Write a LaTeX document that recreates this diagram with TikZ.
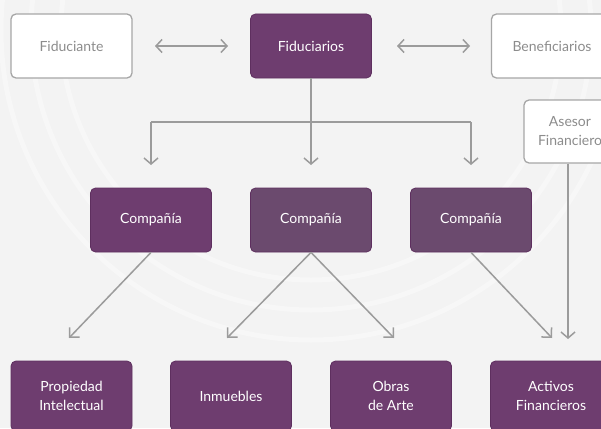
\documentclass[tikz,border=0pt]{standalone}
\usepackage{fontspec}
\setmainfont{Lato}
\usetikzlibrary{arrows.meta}
\definecolor{bg}{HTML}{F3F3F3}
\definecolor{arc}{HTML}{F7F7F7}
\definecolor{purp}{HTML}{6E3D6F}
\definecolor{purpb}{HTML}{6B4A6E}
\definecolor{purpd}{HTML}{5E2F5F}
\definecolor{lgray}{HTML}{A6A6A6}
\definecolor{tgray}{HTML}{8C8C8C}
\definecolor{lin}{HTML}{9B9B9B}
\tikzset{
  box/.style={rounded corners=5pt, minimum width=121pt, minimum height=64pt, align=center,
    font=\fontsize{14}{19}\selectfont, inner sep=0pt},
  pbox/.style={box, fill=purp, draw=purpd, line width=0.8pt, text=white},
  pboxb/.style={box, fill=purpb, draw=purpd, line width=0.8pt, text=white},
  lbox/.style={box, fill=white, draw=lgray, line width=1.3pt, text=tgray},
  conn/.style={draw=lin, line width=1.5pt},
  dbl/.style={conn, {Straight Barb[length=6pt,width=13pt]}-{Straight Barb[length=6pt,width=13pt]}},
  dn/.style={conn, -{_[length=2pt]Straight Barb[length=6pt,width=14pt]}},
  diag/.style={conn, -{_[length=4pt]Straight Barb[length=7pt,width=14pt]}},
}
\begin{document}
\begin{tikzpicture}[x=1pt,y=-1pt]
\clip (0,0) rectangle (601,428);
\fill[bg] (0,0) rectangle (601,428);
\foreach \r in {250,280,310} \draw[arc, line width=5pt] (311,30) circle (\r);
% top row
\node[lbox] (fiduciante) at (71.5,46) {Fiduciante};
\node[pbox] (fiduciarios) at (311,46) {Fiduciarios};
\node[lbox] (beneficiarios) at (552,46) {Beneficiarios};
\node[lbox, minimum width=92pt, minimum height=63pt] (asesor) at (570,131.5) {Asesor\\Financiero};
% companies
\node[pbox] (c1) at (151,220) {Compañía};
\node[pboxb] (c2) at (311,220) {Compañía};
\node[pboxb] (c3) at (471,220) {Compañía};
% bottom row
\node[pbox, minimum height=70pt] (propiedad) at (71.5,396) {};
\node[pbox, minimum height=70pt] (inmuebles) at (231,396) {};
\node[pbox, minimum height=70pt] (obras) at (391,396) {};
\node[pbox, minimum height=70pt] (activos) at (551,396) {};
\node[align=center, text=white, font=\fontsize{14}{19}\selectfont] at (71.5,396) {Propiedad\\Intelectual};
\node[align=center, text=white, font=\fontsize{14}{19}\selectfont] at (231,396) {Inmuebles};
\node[align=center, text=white, font=\fontsize{14}{19}\selectfont] at (391,396) {Obras\\de Arte};
\node[align=center, text=white, font=\fontsize{14}{19}\selectfont] at (551,396) {Activos\\Financieros};
% horizontal double arrows
\coordinate (h1a) at (155,46); \coordinate (h1b) at (228,46);
\coordinate (h2a) at (397,46); \coordinate (h2b) at (470,46);
\draw[dbl] (h1a) -- (h1b);
\draw[dbl] (h2a) -- (h2b);
% tree from fiduciarios
\coordinate (j) at (311,122);
\coordinate (jl) at (151,122);
\coordinate (jr) at (471,122);
\coordinate (d1) at (151,165);
\coordinate (d2) at (311,165);
\coordinate (d3) at (471,165);
\draw[conn] (fiduciarios.south) -- (j);
\draw[conn] (jl) -- (jr);
\draw[dn] (jl) -- (d1);
\draw[dn] (j) -- (d2);
\draw[dn] (jr) -- (d3);
% diagonals
\coordinate (e1) at (69,338);
\coordinate (e2) at (227,338);
\coordinate (e3) at (394,338);
\coordinate (e4) at (552,338);
\draw[diag] (c1.south) -- (e1);
\draw[diag] (c2.south) -- (e2);
\draw[diag] (c2.south) -- (e3);
\draw[diag] (c3.south) -- (e4);
% asesor
\coordinate (e5) at (568,339);
\draw[dn] (asesor.south -| e5) -- (e5);
\end{tikzpicture}
\end{document}
